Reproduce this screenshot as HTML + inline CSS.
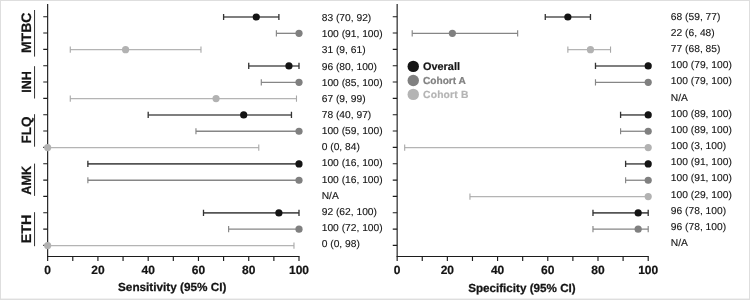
<!DOCTYPE html>
<html lang="en">
<head>
<meta charset="utf-8">
<title>Sensitivity and specificity forest plot</title>
<style>
html,body{margin:0;padding:0;background:#fff;}
body{width:750px;height:300px;overflow:hidden;position:relative;}
svg{position:absolute;left:0;top:0;display:block;}
text{text-rendering:geometricPrecision;font-family:"Liberation Sans",Arial,Helvetica,sans-serif;fill:#141414;}
.v{font-size:10px;stroke:#141414;stroke-width:0.12px;}
.t{font-size:12px;font-weight:bold;text-anchor:middle;stroke:#141414;stroke-width:0.2px;}
.a{font-size:11.75px;font-weight:bold;text-anchor:middle;stroke:#141414;stroke-width:0.25px;}
.g{font-weight:bold;text-anchor:middle;stroke:#1a1a1a;stroke-width:0.2px;}
.l{font-weight:bold;}
</style>
</head>
<body>
<svg width="750" height="300" viewBox="0 0 750 300">
<rect x="0" y="0" width="750" height="300" fill="#ffffff"/>
<rect x="0.5" y="0.5" width="749" height="299" fill="none" stroke="#dedede" stroke-width="1"/>
<path d="M1 298.5H749" stroke="#f1f1f1" stroke-width="1" fill="none"/>

<g stroke="#555555" stroke-width="1.6" fill="none"><path d="M223.59 17.00H278.89"/><path stroke="#333333" stroke-width="1.3" d="M223.59 13.90v6.2M278.89 13.90v6.2"/></g>
<g stroke="#868686" stroke-width="1.3" fill="none"><path d="M276.38 33.33H299.00"/><path stroke="#868686" stroke-width="1.15" d="M276.38 30.23v6.2M299.00 30.23v6.2"/></g>
<g stroke="#b4b4b4" stroke-width="1.2" fill="none"><path d="M70.27 49.65H200.97"/><path stroke="#a8a8a8" stroke-width="1.1" d="M70.27 46.55v6.2M200.97 46.55v6.2"/></g>
<g stroke="#555555" stroke-width="1.6" fill="none"><path d="M248.73 65.97H299.00"/><path stroke="#333333" stroke-width="1.3" d="M248.73 62.87v6.2M299.00 62.87v6.2"/></g>
<g stroke="#868686" stroke-width="1.3" fill="none"><path d="M261.30 82.30H299.00"/><path stroke="#868686" stroke-width="1.15" d="M261.30 79.20v6.2M299.00 79.20v6.2"/></g>
<g stroke="#b4b4b4" stroke-width="1.2" fill="none"><path d="M70.27 98.62H296.49"/><path stroke="#a8a8a8" stroke-width="1.1" d="M70.27 95.53v6.2M296.49 95.53v6.2"/></g>
<g stroke="#555555" stroke-width="1.6" fill="none"><path d="M148.19 114.95H291.46"/><path stroke="#333333" stroke-width="1.3" d="M148.19 111.85v6.2M291.46 111.85v6.2"/></g>
<g stroke="#868686" stroke-width="1.3" fill="none"><path d="M195.95 131.27H299.00"/><path stroke="#868686" stroke-width="1.15" d="M195.95 128.17v6.2M299.00 128.17v6.2"/></g>
<g stroke="#b4b4b4" stroke-width="1.2" fill="none"><path d="M47.65 147.60H258.78"/><path stroke="#a8a8a8" stroke-width="1.1" d="M47.65 144.50v6.2M258.78 144.50v6.2"/></g>
<g stroke="#555555" stroke-width="1.6" fill="none"><path d="M87.87 163.92H299.00"/><path stroke="#333333" stroke-width="1.3" d="M87.87 160.82v6.2M299.00 160.82v6.2"/></g>
<g stroke="#868686" stroke-width="1.3" fill="none"><path d="M87.87 180.25H299.00"/><path stroke="#868686" stroke-width="1.15" d="M87.87 177.15v6.2M299.00 177.15v6.2"/></g>
<text class="v" transform="translate(321.7 198.65) scale(1.025 1)">N/A</text>
<g stroke="#555555" stroke-width="1.6" fill="none"><path d="M203.49 212.90H299.00"/><path stroke="#333333" stroke-width="1.3" d="M203.49 209.80v6.2M299.00 209.80v6.2"/></g>
<g stroke="#868686" stroke-width="1.3" fill="none"><path d="M228.62 229.22H299.00"/><path stroke="#868686" stroke-width="1.15" d="M228.62 226.12v6.2M299.00 226.12v6.2"/></g>
<g stroke="#b4b4b4" stroke-width="1.2" fill="none"><path d="M47.65 245.55H293.97"/><path stroke="#a8a8a8" stroke-width="1.1" d="M47.65 242.45v6.2M293.97 242.45v6.2"/></g>
<g stroke="#1c1c1c" stroke-width="1.15" fill="none">
<path d="M47.65 4V260.9"/>
<path d="M47.10 256.5H299.55"/>
<path d="M72.78 256.5V260.9M97.92 256.5V260.9M123.06 256.5V260.9M148.19 256.5V260.9M173.32 256.5V260.9M198.46 256.5V260.9M223.59 256.5V260.9M248.73 256.5V260.9M273.87 256.5V260.9M299.00 256.5V260.9"/>
<path d="M43.25 16.70H47.65M43.25 33.03H47.65M43.25 49.37H47.65M43.25 65.70H47.65M43.25 82.04H47.65M43.25 98.38H47.65M43.25 114.71H47.65M43.25 131.04H47.65M43.25 147.38H47.65M43.25 163.72H47.65M43.25 180.05H47.65M43.25 196.38H47.65M43.25 212.72H47.65M43.25 229.06H47.65M43.25 245.39H47.65"/>
</g>
<circle cx="256.27" cy="17.00" r="3.6" fill="#141414"/>
<circle cx="299.00" cy="33.33" r="3.6" fill="#808080"/>
<circle cx="125.57" cy="49.65" r="3.6" fill="#b2b2b2"/>
<circle cx="288.95" cy="65.97" r="3.6" fill="#141414"/>
<circle cx="299.00" cy="82.30" r="3.6" fill="#808080"/>
<circle cx="216.05" cy="98.62" r="3.6" fill="#b2b2b2"/>
<circle cx="243.70" cy="114.95" r="3.6" fill="#141414"/>
<circle cx="299.00" cy="131.27" r="3.6" fill="#808080"/>
<circle cx="47.65" cy="147.60" r="3.6" fill="#b2b2b2"/>
<circle cx="299.00" cy="163.92" r="3.6" fill="#141414"/>
<circle cx="299.00" cy="180.25" r="3.6" fill="#808080"/>
<circle cx="278.89" cy="212.90" r="3.6" fill="#141414"/>
<circle cx="299.00" cy="229.22" r="3.6" fill="#808080"/>
<circle cx="47.65" cy="245.55" r="3.6" fill="#b2b2b2"/>
<text class="t" x="47.65" y="274.3">0</text>
<text class="t" x="97.92" y="274.3">20</text>
<text class="t" x="148.19" y="274.3">40</text>
<text class="t" x="198.46" y="274.3">60</text>
<text class="t" x="248.73" y="274.3">80</text>
<text class="t" x="299.00" y="274.3">100</text>
<text class="a" x="172.22" y="291.45">Sensitivity (95% CI)</text>
<text class="v" transform="translate(321.7 20.50) scale(1.025 1)">83 (70, 92)</text>
<text class="v" transform="translate(321.7 36.65) scale(1.025 1)">100 (91, 100)</text>
<text class="v" transform="translate(321.7 53.20) scale(1.025 1)">31 (9, 61)</text>
<text class="v" transform="translate(321.7 69.55) scale(1.025 1)">96 (80, 100)</text>
<text class="v" transform="translate(321.7 85.70) scale(1.025 1)">100 (85, 100)</text>
<text class="v" transform="translate(321.7 101.85) scale(1.025 1)">67 (9, 99)</text>
<text class="v" transform="translate(321.7 118.00) scale(1.025 1)">78 (40, 97)</text>
<text class="v" transform="translate(321.7 134.05) scale(1.025 1)">100 (59, 100)</text>
<text class="v" transform="translate(321.7 150.20) scale(1.025 1)">0 (0, 84)</text>
<text class="v" transform="translate(321.7 166.35) scale(1.025 1)">100 (16, 100)</text>
<text class="v" transform="translate(321.7 182.50) scale(1.025 1)">100 (16, 100)</text>
<text class="v" transform="translate(321.7 214.80) scale(1.025 1)">92 (62, 100)</text>
<text class="v" transform="translate(321.7 231.05) scale(1.025 1)">100 (72, 100)</text>
<text class="v" transform="translate(321.7 246.60) scale(1.025 1)">0 (0, 98)</text>

<g stroke="#555555" stroke-width="1.6" fill="none"><path d="M545.27 17.00H590.46"/><path stroke="#333333" stroke-width="1.3" d="M545.27 13.90v6.2M590.46 13.90v6.2"/></g>
<g stroke="#868686" stroke-width="1.3" fill="none"><path d="M412.21 33.33H517.65"/><path stroke="#868686" stroke-width="1.15" d="M412.21 30.23v6.2M517.65 30.23v6.2"/></g>
<g stroke="#b4b4b4" stroke-width="1.2" fill="none"><path d="M567.86 49.65H610.54"/><path stroke="#a8a8a8" stroke-width="1.1" d="M567.86 46.55v6.2M610.54 46.55v6.2"/></g>
<g stroke="#555555" stroke-width="1.6" fill="none"><path d="M595.48 65.97H648.20"/><path stroke="#333333" stroke-width="1.3" d="M595.48 62.87v6.2M648.20 62.87v6.2"/></g>
<g stroke="#868686" stroke-width="1.3" fill="none"><path d="M595.48 82.30H648.20"/><path stroke="#868686" stroke-width="1.15" d="M595.48 79.20v6.2M648.20 79.20v6.2"/></g>
<text class="v" transform="translate(670.85 100.65) scale(1.025 1)">N/A</text>
<g stroke="#555555" stroke-width="1.6" fill="none"><path d="M620.58 114.95H648.20"/><path stroke="#333333" stroke-width="1.3" d="M620.58 111.85v6.2M648.20 111.85v6.2"/></g>
<g stroke="#868686" stroke-width="1.3" fill="none"><path d="M620.58 131.27H648.20"/><path stroke="#868686" stroke-width="1.15" d="M620.58 128.17v6.2M648.20 128.17v6.2"/></g>
<g stroke="#b4b4b4" stroke-width="1.2" fill="none"><path d="M404.68 147.60H648.20"/><path stroke="#a8a8a8" stroke-width="1.1" d="M404.68 144.50v6.2M648.20 144.50v6.2"/></g>
<g stroke="#555555" stroke-width="1.6" fill="none"><path d="M625.61 163.92H648.20"/><path stroke="#333333" stroke-width="1.3" d="M625.61 160.82v6.2M648.20 160.82v6.2"/></g>
<g stroke="#868686" stroke-width="1.3" fill="none"><path d="M625.61 180.25H648.20"/><path stroke="#868686" stroke-width="1.15" d="M625.61 177.15v6.2M648.20 177.15v6.2"/></g>
<g stroke="#b4b4b4" stroke-width="1.2" fill="none"><path d="M469.95 196.57H648.20"/><path stroke="#a8a8a8" stroke-width="1.1" d="M469.95 193.47v6.2M648.20 193.47v6.2"/></g>
<g stroke="#555555" stroke-width="1.6" fill="none"><path d="M592.97 212.90H648.20"/><path stroke="#333333" stroke-width="1.3" d="M592.97 209.80v6.2M648.20 209.80v6.2"/></g>
<g stroke="#868686" stroke-width="1.3" fill="none"><path d="M592.97 229.22H648.20"/><path stroke="#868686" stroke-width="1.15" d="M592.97 226.12v6.2M648.20 226.12v6.2"/></g>
<text class="v" transform="translate(670.85 245.70) scale(1.025 1)">N/A</text>
<g stroke="#1c1c1c" stroke-width="1.15" fill="none">
<path d="M397.15 4V260.9"/>
<path d="M396.60 256.5H648.75"/>
<path d="M422.25 256.5V260.9M447.36 256.5V260.9M472.47 256.5V260.9M497.57 256.5V260.9M522.68 256.5V260.9M547.78 256.5V260.9M572.88 256.5V260.9M597.99 256.5V260.9M623.10 256.5V260.9M648.20 256.5V260.9"/>
<path d="M392.75 16.70H397.15M392.75 33.03H397.15M392.75 49.37H397.15M392.75 65.70H397.15M392.75 82.04H397.15M392.75 98.38H397.15M392.75 114.71H397.15M392.75 131.04H397.15M392.75 147.38H397.15M392.75 163.72H397.15M392.75 180.05H397.15M392.75 196.38H397.15M392.75 212.72H397.15M392.75 229.06H397.15M392.75 245.39H397.15"/>
</g>
<circle cx="567.86" cy="17.00" r="3.6" fill="#141414"/>
<circle cx="452.38" cy="33.33" r="3.6" fill="#808080"/>
<circle cx="590.46" cy="49.65" r="3.6" fill="#b2b2b2"/>
<circle cx="648.20" cy="65.97" r="3.6" fill="#141414"/>
<circle cx="648.20" cy="82.30" r="3.6" fill="#808080"/>
<circle cx="648.20" cy="114.95" r="3.6" fill="#141414"/>
<circle cx="648.20" cy="131.27" r="3.6" fill="#808080"/>
<circle cx="648.20" cy="147.60" r="3.6" fill="#b2b2b2"/>
<circle cx="648.20" cy="163.92" r="3.6" fill="#141414"/>
<circle cx="648.20" cy="180.25" r="3.6" fill="#808080"/>
<circle cx="648.20" cy="196.57" r="3.6" fill="#b2b2b2"/>
<circle cx="638.16" cy="212.90" r="3.6" fill="#141414"/>
<circle cx="638.16" cy="229.22" r="3.6" fill="#808080"/>
<text class="t" x="397.15" y="274.3">0</text>
<text class="t" x="447.36" y="274.3">20</text>
<text class="t" x="497.57" y="274.3">40</text>
<text class="t" x="547.78" y="274.3">60</text>
<text class="t" x="597.99" y="274.3">80</text>
<text class="t" x="648.20" y="274.3">100</text>
<text class="a" style="font-size:11.66px" x="521.92" y="291.8">Specificity (95% CI)</text>
<text class="v" transform="translate(670.85 19.50) scale(1.025 1)">68 (59, 77)</text>
<text class="v" transform="translate(670.85 35.65) scale(1.025 1)">22 (6, 48)</text>
<text class="v" transform="translate(670.85 52.00) scale(1.025 1)">77 (68, 85)</text>
<text class="v" transform="translate(670.85 68.30) scale(1.025 1)">100 (79, 100)</text>
<text class="v" transform="translate(670.85 84.45) scale(1.025 1)">100 (79, 100)</text>
<text class="v" transform="translate(670.85 116.85) scale(1.025 1)">100 (89, 100)</text>
<text class="v" transform="translate(670.85 133.00) scale(1.025 1)">100 (89, 100)</text>
<text class="v" transform="translate(670.85 149.15) scale(1.025 1)">100 (3, 100)</text>
<text class="v" transform="translate(670.85 165.25) scale(1.025 1)">100 (91, 100)</text>
<text class="v" transform="translate(670.85 181.40) scale(1.025 1)">100 (91, 100)</text>
<text class="v" transform="translate(670.85 197.55) scale(1.025 1)">100 (29, 100)</text>
<text class="v" transform="translate(670.85 213.60) scale(1.025 1)">96 (78, 100)</text>
<text class="v" transform="translate(670.85 229.75) scale(1.025 1)">96 (78, 100)</text>

<path d="M34.55 10.0V56.6" stroke="#1c1c1c" stroke-width="0.9" fill="none"/>
<text class="g" style="font-size:13.75px" transform="translate(30.6 32.8) rotate(-90) scale(1.022 1)">MTBC</text>
<path d="M34.55 66.2V98.5" stroke="#1c1c1c" stroke-width="0.9" fill="none"/>
<text class="g" style="font-size:13.3px" transform="translate(30.6 81.9) rotate(-90) scale(0.938 1)">INH</text>
<path d="M34.55 114.2V146.7" stroke="#1c1c1c" stroke-width="0.9" fill="none"/>
<text class="g" style="font-size:13.5px" transform="translate(30.6 130.1) rotate(-90) scale(1.0 1)">FLQ</text>
<path d="M34.55 163.6V195.9" stroke="#1c1c1c" stroke-width="0.9" fill="none"/>
<text class="g" style="font-size:13.5px" transform="translate(30.6 180.2) rotate(-90) scale(0.944 1)">AMK</text>
<path d="M34.55 212.2V246.2" stroke="#1c1c1c" stroke-width="0.9" fill="none"/>
<text class="g" style="font-size:14.0px" transform="translate(30.6 229.0) rotate(-90) scale(1.026 1)">ETH</text>
<circle cx="413.25" cy="66.4" r="5.7" fill="#151515"/>
<text class="l" x="423.0" y="70.1" style="fill:#151515;stroke:#151515;stroke-width:0.2px;font-size:10.9px;letter-spacing:0px">Overall</text>
<circle cx="413.25" cy="80.5" r="5.7" fill="#808080"/>
<text class="l" x="423.0" y="83.9" style="fill:#808080;stroke:#808080;stroke-width:0.2px;font-size:10.15px;letter-spacing:0px">Cohort A</text>
<circle cx="413.25" cy="94.4" r="5.7" fill="#b4b4b4"/>
<text class="l" x="423.0" y="97.6" style="fill:#b4b4b4;stroke:#b4b4b4;stroke-width:0.2px;font-size:10.3px;letter-spacing:0.2px">Cohort B</text>
</svg>
</body>
</html>
